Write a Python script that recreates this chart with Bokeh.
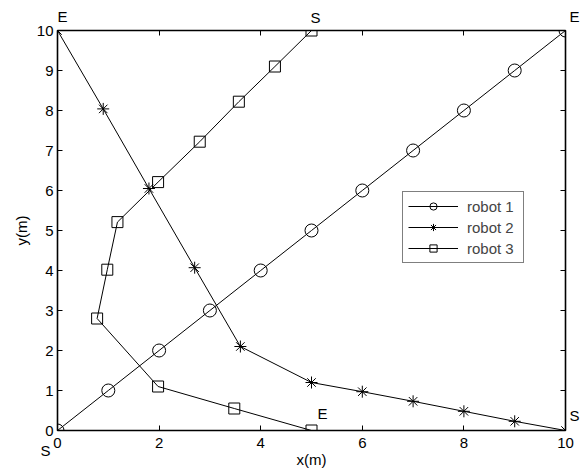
from bokeh.plotting import figure
from bokeh.models import FixedTicker, LinearAxis, Legend, LegendItem, ColumnDataSource
from bokeh.core.properties import value
from bokeh.embed import file_html
from bokeh.resources import INLINE

# ---- data ----
robot1_x = [0, 1, 2, 3, 4, 5, 6, 7, 8, 9, 10]
robot1_y = [0, 1, 2, 3, 4, 5, 6, 7, 8, 9, 10]
robot2_x = [10, 9, 8, 7, 6, 5, 3.6, 2.7, 1.8, 0.9, 0]
robot2_y = [0, 0.23, 0.48, 0.73, 0.97, 1.2, 2.1, 4.07, 6.05, 8.04, 10]
robot3_x = [5, 4.28, 3.57, 2.8, 1.98, 1.18, 0.98, 0.78, 1.98, 3.48, 5]
robot3_y = [10, 9.1, 8.22, 7.22, 6.21, 5.21, 4.02, 2.8, 1.1, 0.55, 0]
series_names = ["robot 1", "robot 2", "robot 3"]
x_ticks = [0, 2, 4, 6, 8, 10]
y_ticks = [0, 1, 2, 3, 4, 5, 6, 7, 8, 9, 10]
start_text = "S"
end_text = "E"

FONT = "Liberation Sans"
FS = "15px"

p = figure(width=581, height=473, output_backend="svg", toolbar_location=None,
           x_range=(0, 10), y_range=(0, 10),
           min_border_left=57, min_border_right=16, min_border_top=30, min_border_bottom=43)
p.background_fill_color = "white"
p.border_fill_color = "white"
p.xgrid.grid_line_color = None
p.ygrid.grid_line_color = None
p.outline_line_color = "black"
p.outline_line_width = 1.6
p.outline_line_alpha = 1.0

p.xaxis.axis_label = "x(m)"
p.xaxis.axis_label_standoff = 0
p.yaxis.axis_label = "y(m)"
p.yaxis.axis_label_standoff = 4

for ax in (p.xaxis[0], p.yaxis[0]):
    ax.axis_label_text_font = FONT
    ax.axis_label_text_font_size = FS
    ax.axis_label_text_font_style = "normal"
    ax.axis_label_text_color = "black"
    ax.major_label_text_font = FONT
    ax.major_label_text_font_size = FS
    ax.major_label_text_color = "black"
    ax.axis_line_color = None
    ax.major_tick_in = 5
    ax.major_tick_out = 0
    ax.major_tick_line_color = "black"
    ax.minor_tick_line_color = None
p.xaxis[0].ticker = FixedTicker(ticks=x_ticks)
p.yaxis[0].ticker = FixedTicker(ticks=y_ticks)
p.xaxis[0].major_label_standoff = 7
p.yaxis[0].major_label_standoff = 4

# box ticks on top and right (no labels)
top = LinearAxis(ticker=FixedTicker(ticks=x_ticks))
right = LinearAxis(ticker=FixedTicker(ticks=y_ticks))
for ax in (top, right):
    ax.major_label_text_color = None
    ax.major_label_text_alpha = 0
    ax.major_label_text_font_size = "1px"
    ax.major_label_standoff = 0
    ax.axis_line_color = None
    ax.major_tick_in = 5
    ax.major_tick_out = 0
    ax.major_tick_line_color = "black"
    ax.minor_tick_line_color = None
p.add_layout(top, "above")
p.add_layout(right, "right")

paths = [(robot1_x, robot1_y), (robot2_x, robot2_y), (robot3_x, robot3_y)]
markers = ["circle", "asterisk", "square"]
sizes = [13, 12, 11]
items = []
for (xs, ys), name, mk, sz in zip(paths, series_names, markers, sizes):
    ln = p.line(xs, ys, line_color="black", line_width=1)
    sc = p.scatter(xs, ys, marker=mk, size=sz, fill_color=None,
                   line_color="black", line_width=1)
    items.append(LegendItem(label=name, renderers=[ln, sc]))

legend = Legend(items=items, location=(345, 167))
legend.label_text_font = FONT
legend.label_text_font_size = FS
legend.border_line_color = "black"
legend.border_line_width = 1
legend.background_fill_color = "white"
legend.background_fill_alpha = 1.0
legend.padding = 5
legend.spacing = 3
legend.margin = 0
legend.glyph_width = 50
legend.glyph_height = 18
legend.label_height = 18
legend.label_width = 51
legend.label_standoff = 9
p.add_layout(legend)

# start / end annotations at each path's first and last point (offsets in px, +dy = up)
start_offsets = [(-12, -20), (9, 15), (4, 13)]
end_offsets = [(9, 14), (5, 14), (11, 17)]
lx, ly, lt, ldx, ldy = [], [], [], [], []
for (xs, ys), so, eo in zip(paths, start_offsets, end_offsets):
    lx += [xs[0], xs[-1]]
    ly += [ys[0], ys[-1]]
    lt += [start_text, end_text]
    ldx += [so[0], eo[0]]
    ldy += [-so[1], -eo[1]]   # glyph y_offset is screen-down
src = ColumnDataSource(dict(x=lx, y=ly, text=lt, dx=ldx, dy=ldy))
p.text(x="x", y="y", text="text", x_offset="dx", y_offset="dy", source=src,
       text_align="center", text_baseline="middle",
       text_font=value(FONT), text_font_size=value(FS), text_color="black",
       level="overlay")

open("out.html", "w").write(file_html(p, INLINE))
